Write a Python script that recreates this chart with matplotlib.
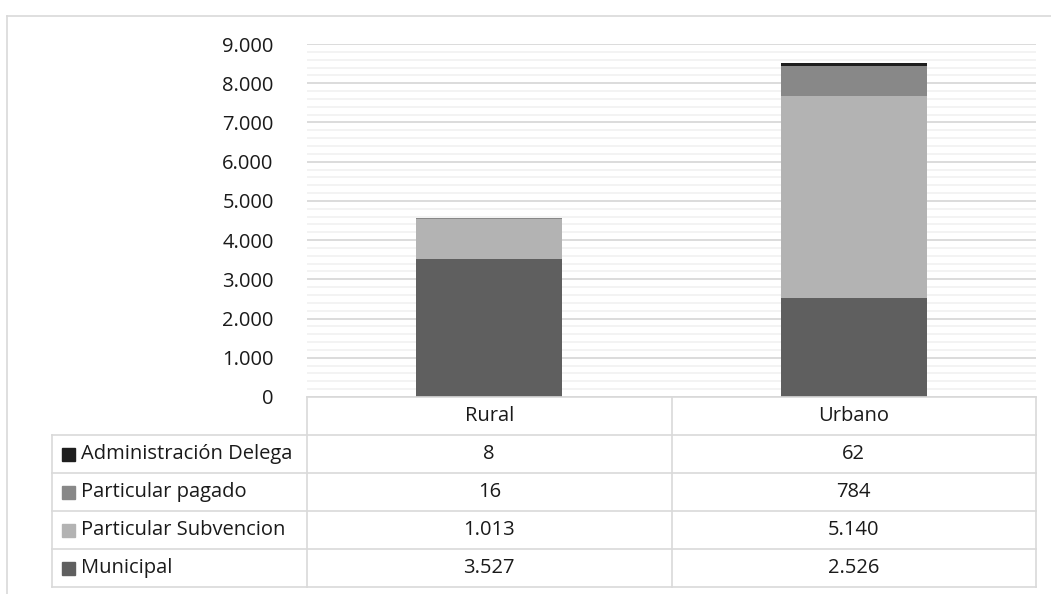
import matplotlib
matplotlib.use("Agg")
import matplotlib.pyplot as plt
from matplotlib.lines import Line2D
from matplotlib.patches import Rectangle
import numpy as np

plt.rcParams['font.family'] = ['Open Sans', 'DejaVu Sans']

categories = ["Rural", "Urbano"]
series_names = ["Administración Delega", "Particular pagado", "Particular Subvencion", "Municipal"]
municipal = [3527, 2526]
part_subv = [1013, 5140]
part_pagado = [16, 784]
admin_del = [8, 62]
yticks = [0, 1000, 2000, 3000, 4000, 5000, 6000, 7000, 8000, 9000]
ytick_labels = ["0", "1.000", "2.000", "3.000", "4.000", "5.000", "6.000", "7.000", "8.000", "9.000"]

colors = {"Municipal": "#5f5f5f", "Particular Subvencion": "#b3b3b3",
          "Particular pagado": "#888888", "Administración Delega": "#1e1e1e"}

FS = 14.5
W, H = 1051, 594
fig = plt.figure(figsize=(W / 100, H / 100), dpi=100)

def fx(x):
    return x / W

def fy(y):
    return 1 - y / H

# plot area
L, R, T, B = 307, 1036, 44, 397
ax = fig.add_axes([fx(L), fy(B), fx(R) - fx(L), fy(T) - fy(B)])
x = np.arange(len(categories))
bw = 0.4
bottom = np.zeros(len(categories))
stack = [("Municipal", municipal), ("Particular Subvencion", part_subv),
         ("Particular pagado", part_pagado), ("Administración Delega", admin_del)]
for name, vals in stack:
    ax.bar(x, vals, bw, bottom=bottom, color=colors[name], zorder=3, linewidth=0)
    bottom += np.array(vals)

ax.set_xlim(-0.5, len(categories) - 0.5)
ax.set_ylim(0, 9000)
ax.set_yticks(yticks)
ax.set_yticklabels(ytick_labels, fontsize=FS, color="#1a1a1a")
ax.set_yticks(np.arange(0, 9001, 200), minor=True)
ax.grid(axis="y", which="major", color="#d9d9d9", linewidth=1.3, zorder=0)
ax.grid(axis="y", which="minor", color="#f2f2f2", linewidth=1.3, zorder=0)
ax.tick_params(axis="y", which="both", length=0, pad=24)
ax.set_xticks([])
for s in ax.spines.values():
    s.set_visible(False)

# data table
tcol = "#d9d9d9"
lw = 1.2
TL = 52
cols = [L, (L + R) / 2, R]
rows = [397, 435, 473, 511, 549, 587]

def hline(y, x0, x1):
    fig.add_artist(Line2D([fx(x0), fx(x1)], [fy(y), fy(y)], color=tcol, lw=lw))

def vline(xp, y0, y1):
    fig.add_artist(Line2D([fx(xp), fx(xp)], [fy(y0), fy(y1)], color=tcol, lw=lw))

hline(rows[0], L, R)
for y in rows[1:]:
    hline(y, TL, R)
for xp in cols:
    vline(xp, rows[0], rows[-1])
vline(TL, rows[1], rows[-1])

for i, c in enumerate(categories):
    fig.text(fx((cols[i] + cols[i + 1]) / 2), fy((rows[0] + rows[1]) / 2), c,
             ha="center", va="center", fontsize=FS, color="#1a1a1a")

table_vals = {"Administración Delega": admin_del, "Particular pagado": part_pagado,
              "Particular Subvencion": part_subv, "Municipal": municipal}

def fmt(v):
    return f"{v:,}".replace(",", ".")

for r, name in enumerate(series_names):
    yc = (rows[r + 1] + rows[r + 2]) / 2
    fig.add_artist(Rectangle((fx(62), fy(yc + 6.5)), fx(13), 13 / H, color=colors[name]))
    fig.text(fx(81), fy(yc), name, ha="left", va="center", fontsize=FS, color="#1a1a1a")
    for i in range(len(categories)):
        fig.text(fx((cols[i] + cols[i + 1]) / 2), fy(yc), fmt(table_vals[name][i]),
                 ha="center", va="center", fontsize=FS, color="#1a1a1a")

# outer chart border (left and top visible)
fig.add_artist(Line2D([fx(7), fx(W)], [fy(16), fy(16)], color="#d9d9d9", lw=1.2))
fig.add_artist(Line2D([fx(7), fx(7)], [fy(16), fy(H)], color="#d9d9d9", lw=1.2))

fig.savefig("out.png", dpi=100)
